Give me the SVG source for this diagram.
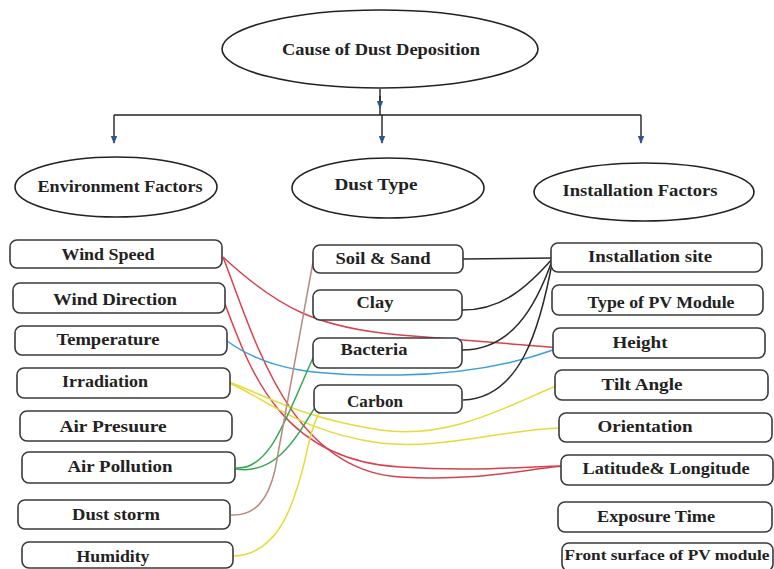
<svg xmlns="http://www.w3.org/2000/svg" width="774" height="569" viewBox="0 0 774 569">
<defs>
<marker id="ah" viewBox="0 0 8 8" refX="7" refY="4" markerWidth="8" markerHeight="8" markerUnits="userSpaceOnUse" orient="auto">
<path d="M0,0.8 L8,4 L0,7.2 Z" fill="#2f5597"/>
</marker>
<style>
.ell{fill:#fff;stroke:#222;stroke-width:1.6}
.box{fill:#fff;stroke:#3a3a3a;stroke-width:1.6}
.t{font-family:"Liberation Serif","Times New Roman",serif;font-weight:bold;font-size:17px;fill:#222;text-anchor:middle}
.ts{font-size:14px}
.tree{fill:none;stroke:#222;stroke-width:1.4}
.c{fill:none;stroke-width:1.5}
.red{stroke:#d9404e}
.blue{stroke:#3a9fd6}
.yel{stroke:#e4dc3a}
.grn{stroke:#34a853}
.brn{stroke:#b88a80}
.blk{stroke:#2a2a2a}
</style>
</defs>
<rect width="774" height="569" fill="#fff"/>

<g id="tree-connectors">
<line class="tree" x1="380" y1="89" x2="380" y2="115"/>
<line class="tree" x1="380" y1="96" x2="380" y2="108" marker-end="url(#ah)"/>
<line class="tree" x1="114" y1="115" x2="641" y2="115"/>
<line class="tree" x1="114" y1="115" x2="114" y2="143" marker-end="url(#ah)"/>
<line class="tree" x1="382" y1="115" x2="382" y2="143" marker-end="url(#ah)"/>
<line class="tree" x1="641" y1="115" x2="641" y2="143" marker-end="url(#ah)"/>
</g>

<g id="cause"><ellipse class="ell" cx="380" cy="49" rx="158" ry="39"/><text class="t" x="381" y="55" textLength="198" lengthAdjust="spacingAndGlyphs">Cause of Dust Deposition</text></g>
<g id="env"><ellipse class="ell" cx="116" cy="187" rx="101" ry="30"/><text class="t" x="120" y="192" textLength="165" lengthAdjust="spacingAndGlyphs">Environment Factors</text></g>
<g id="dust"><ellipse class="ell" cx="388" cy="188" rx="96" ry="30"/><text class="t" x="376" y="190" textLength="83" lengthAdjust="spacingAndGlyphs">Dust Type</text></g>
<g id="inst"><ellipse class="ell" cx="644" cy="192" rx="110" ry="29"/><text class="t" x="640" y="196" textLength="155" lengthAdjust="spacingAndGlyphs">Installation Factors</text></g>

<g id="links">
<path class="c red" d="M223,257 C280,310 320,328 400,335 L562,348"/>
<path class="c red" d="M223,257 C255,340 290,470 400,477 C480,482 530,468 565,466"/>
<path class="c red" d="M225,304 C250,370 280,460 400,467 C480,472 530,466 565,466"/>
<path class="c blue" d="M227,341 C270,372 320,376 400,375 C470,374 520,362 556,349"/>
<path class="c yel" d="M229,382 C265,395 300,418 380,430 C450,440 510,405 556,386"/>
<path class="c yel" d="M229,383 C265,398 300,432 380,443 C440,450 500,430 560,428"/>
<path class="c yel" d="M233,556 C280,555 295,500 305,460 C310,435 315,420 320,412"/>
<path class="c grn" d="M236,468 C270,470 285,420 313,358"/>
<path class="c grn" d="M236,469 C275,475 295,440 314,409"/>
<path class="c brn" d="M231,515 C255,516 268,500 275,470 L313,262"/>
<path class="c blk" d="M463,259 L553,258"/>
<path class="c blk" d="M462,310 C500,310 525,290 553,258"/>
<path class="c blk" d="M462,350 C510,350 535,310 553,258"/>
<path class="c blk" d="M463,400 C520,398 540,330 553,258"/>
</g>

<g id="wind-speed"><rect class="box" x="10" y="240" width="212" height="28" rx="7"/><text class="t" x="108" y="260" textLength="93" lengthAdjust="spacingAndGlyphs">Wind Speed</text></g>
<g id="wind-direction"><rect class="box" x="13" y="283" width="212" height="30" rx="7"/><text class="t" x="115" y="305" textLength="124" lengthAdjust="spacingAndGlyphs">Wind Direction</text></g>
<g id="temperature"><rect class="box" x="15" y="326" width="212" height="29" rx="7"/><text class="t" x="108" y="345" textLength="103" lengthAdjust="spacingAndGlyphs">Temperature</text></g>
<g id="irradiation"><rect class="box" x="17" y="368" width="213" height="30" rx="7"/><text class="t" x="105" y="387" textLength="86" lengthAdjust="spacingAndGlyphs">Irradiation</text></g>
<g id="air-pressure"><rect class="box" x="20" y="411" width="212" height="30" rx="7"/><text class="t" x="113" y="432" textLength="107" lengthAdjust="spacingAndGlyphs">Air Presuure</text></g>
<g id="air-pollution"><rect class="box" x="22" y="452" width="213" height="31" rx="7"/><text class="t" x="120" y="472" textLength="105" lengthAdjust="spacingAndGlyphs">Air Pollution</text></g>
<g id="dust-storm"><rect class="box" x="18" y="500" width="212" height="29" rx="7"/><text class="t" x="116" y="520" textLength="88" lengthAdjust="spacingAndGlyphs">Dust storm</text></g>
<g id="humidity"><rect class="box" x="22" y="542" width="211" height="26" rx="7"/><text class="t" x="113" y="562" textLength="73" lengthAdjust="spacingAndGlyphs">Humidity</text></g>

<g id="soil-sand"><rect class="box" x="313" y="245" width="150" height="28" rx="7"/><text class="t" x="383" y="264" textLength="95" lengthAdjust="spacingAndGlyphs">Soil &amp; Sand</text></g>
<g id="clay"><rect class="box" x="313" y="290" width="149" height="30" rx="7"/><text class="t" x="375" y="308" textLength="37" lengthAdjust="spacingAndGlyphs">Clay</text></g>
<g id="bacteria"><rect class="box" x="313" y="338" width="149" height="30" rx="7"/><text class="t" x="374" y="355" textLength="67" lengthAdjust="spacingAndGlyphs">Bacteria</text></g>
<g id="carbon"><rect class="box" x="314" y="385" width="148" height="28" rx="7"/><text class="t" x="375" y="407" textLength="56" lengthAdjust="spacingAndGlyphs">Carbon</text></g>

<g id="installation-site"><rect class="box" x="551" y="243" width="211" height="29" rx="7"/><text class="t" x="650" y="262" textLength="124" lengthAdjust="spacingAndGlyphs">Installation site</text></g>
<g id="pv-type"><rect class="box" x="552" y="285" width="211" height="30" rx="7"/><text class="t" x="661" y="308" textLength="147" lengthAdjust="spacingAndGlyphs">Type of PV Module</text></g>
<g id="height"><rect class="box" x="553" y="328" width="212" height="30" rx="7"/><text class="t" x="640" y="348" textLength="55" lengthAdjust="spacingAndGlyphs">Height</text></g>
<g id="tilt-angle"><rect class="box" x="555" y="370" width="213" height="30" rx="7"/><text class="t" x="642" y="390" textLength="81" lengthAdjust="spacingAndGlyphs">Tilt Angle</text></g>
<g id="orientation"><rect class="box" x="559" y="413" width="213" height="29" rx="7"/><text class="t" x="645" y="432" textLength="95" lengthAdjust="spacingAndGlyphs">Orientation</text></g>
<g id="lat-long"><rect class="box" x="561" y="455" width="212" height="30" rx="7"/><text class="t" x="666" y="474" textLength="167" lengthAdjust="spacingAndGlyphs">Latitude&amp; Longitude</text></g>
<g id="exposure-time"><rect class="box" x="558" y="502" width="214" height="30" rx="7"/><text class="t" x="656" y="522" textLength="118" lengthAdjust="spacingAndGlyphs">Exposure Time</text></g>
<g id="front-surface"><rect class="box" x="562" y="543" width="211" height="28" rx="7"/><text class="t ts" x="667" y="560" textLength="205" lengthAdjust="spacingAndGlyphs">Front surface of PV module</text></g>
</svg>
